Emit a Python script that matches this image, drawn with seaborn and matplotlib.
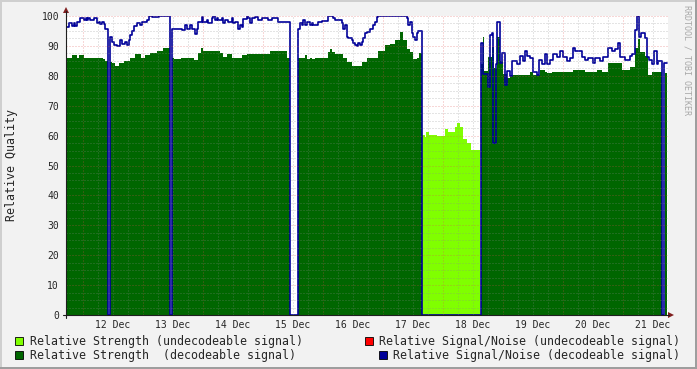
import numpy as np
import pandas as pd
import seaborn as sns
import matplotlib.pyplot as plt
from matplotlib.patches import Rectangle, Polygon
from matplotlib.lines import Line2D

nan = np.nan

# time axis: hours since 12 Dec 00:00, each value holds until the next time
end_t = 233.7

# Relative Strength (decodeable signal)
str_dec_t = [-6.2, -4.2, -2.2, -1.4, 0.6, 8.2, 9.0, 10.2, 11.0, 11.8,
             13.0, 14.6, 16.6, 19.0, 21.0, 23.4, 25.0, 27.0, 29.8, 32.2,
             34.8, 35.8, 36.4, 39.4, 44.6, 46.2, 47.4, 48.2, 55.0, 56.2,
             57.8, 59.8, 63.8, 65.8, 75.0, 81.8, 83.0, 86.3, 89.0, 89.8,
             91.0, 91.8, 93.0, 98.2, 99.0, 99.8, 101.0, 104.2, 105.8, 107.8,
             111.8, 113.8, 118.2, 121.0, 123.0, 125.0, 127.0, 128.2, 129.8, 131.0,
             132.1, 133.7, 134.7, 135.7, 159.4, 160.1, 160.6, 162.3, 163.7, 164.6,
             165.9, 167.0, 168.3, 169.7, 171.0, 179.0, 180.3, 183.0, 185.0, 185.7,
             187.7, 196.3, 201.0, 205.7, 207.7, 210.3, 215.7, 219.0, 221.0, 222.3,
             223.0, 225.0, 226.3, 227.7, 231.7, 233.0]
str_dec_v = [86, 87, 86, 87, 86, 85.5, 85, nan, 84.7, 84.2,
             83.3, 84.2, 85, 86, 87.3, 86, 87, 87.5, 88.2, 89.2,
             nan, 86, 85.5, 86, 85.3, 87.6, 89.2, 88.3, 87.6, 86.2,
             87.3, 86, 87, 87.3, 88.3, 86, nan, 86, 87, 85.5,
             86, 85.5, 86, 88, 88.9, 88, 87.3, 86, 84.7, 83.3,
             84.7, 86, 88.3, 90.3, 90.6, 92, 94.8, 92, 88.9, 88,
             85.5, 86, 87.5, nan, 84, 93, 81.6, 86.4, 89.7, 82.5,
             93, 85, 80.5, 79.1, 80.3, 81.4, 80.3, 81.9, 81.4, 80.8,
             81.4, 82.1, 81.4, 81.9, 81.4, 84.2, 82.1, 83, 89.2, 92.2,
             88, 86.5, 80.3, 81.4, nan, 81]

# Relative Strength (undecodeable signal)
str_und_t = [135.7, 137.0, 137.4, 138.7, 141.7, 145.0, 146.3, 149.0, 149.9, 151.0,
             152.3, 153.7, 155.3, 159.0]
str_und_v = [60.2, 59.5, 61.3, 60.2, 60, 62.1, 61.3, 63, 64.1, 63,
             59, 57.4, 55.2, nan]

# Relative Signal/Noise (decodeable signal)
snr_t = [-6.2, -5.4, -4.2, -3.5, -3.0, -2.2, -0.9, 0.6, 1.3, 1.8,
         2.3, 3.1, 4.5, 5.8, 6.5, 7.1, 7.8, 8.5, 9.1, 10.2,
         11.1, 11.8, 12.5, 13.8, 15.1, 15.8, 17.1, 17.8, 18.5, 19.1,
         19.8, 20.5, 21.8, 23.1, 23.8, 25.8, 26.5, 27.8, 30.5, 34.8,
         35.8, 39.7, 41.0, 41.7, 43.0, 43.7, 45.0, 45.7, 46.3, 47.7,
         48.3, 49.7, 50.3, 51.7, 52.3, 53.0, 53.7, 54.3, 55.7, 56.3,
         57.0, 58.3, 59.7, 60.3, 61.0, 62.3, 63.0, 63.7, 64.3, 65.7,
         66.3, 67.0, 67.7, 69.0, 70.3, 71.7, 74.3, 75.7, 78.3, 83.0,
         86.3, 87.0, 87.7, 88.3, 89.0, 89.7, 91.0, 91.7, 92.3, 94.3,
         95.7, 98.3, 100.3, 101.0, 103.7, 104.3, 105.0, 105.7, 106.3, 107.7,
         108.3, 109.0, 109.7, 110.3, 111.0, 111.7, 112.3, 113.0, 113.7, 115.0,
         116.3, 117.0, 117.7, 118.3, 129.7, 130.3, 131.0, 131.7, 132.3, 133.0,
         133.7, 134.3, 135.6, 159.4, 160.3, 162.3, 163.0, 163.7, 164.3, 165.4,
         165.9, 167.0, 167.7, 169.0, 169.7, 171.0, 171.7, 173.7, 175.0, 176.3,
         177.0, 177.7, 179.0, 180.3, 181.7, 182.6, 183.7, 185.0, 185.7, 187.0,
         188.3, 189.7, 191.0, 192.3, 193.7, 195.0, 196.3, 197.0, 199.7, 201.0,
         202.3, 204.3, 205.0, 207.0, 208.3, 210.3, 211.7, 213.0, 214.3, 215.0,
         217.0, 219.0, 219.7, 221.0, 221.7, 222.6, 223.3, 225.0, 225.9, 226.7,
         227.7, 228.6, 229.7, 230.3, 231.7, 232.7]
snr_v = [96.2, 97.8, 96.5, 97.8, 96.8, 98, 99.2, 98.5, 99.2, 98.5,
         99.2, 98.5, 99.2, 97.6, 98, 97.3, 98, 97.3, 95.8, 0,
         93.1, 91.4, 90.3, 89.9, 92, 90.6, 91.2, 90.3, 92, 93.6,
         95, 96.5, 97.6, 97, 98.1, 98.7, 100, 99.5, 100, 0,
         95.8, 95.3, 96.9, 95.8, 96.9, 95.8, 94.1, 95.8, 98.1, 99.8,
         98.1, 98.7, 97.8, 99.3, 100, 98.7, 99.3, 98.7, 99.3, 97.6,
         98.7, 98.1, 99.3, 97.6, 98.1, 95.8, 96.9, 96.3, 99.1, 100,
         99.3, 97.8, 99.3, 99.6, 98.7, 99.3, 98.7, 99.3, 98.1, 0,
         95.8, 97.5, 96.9, 98.7, 96.9, 98.1, 96.9, 97.5, 96.9, 98.1,
         98.4, 100, 99.3, 98.7, 97.5, 95.8, 96.9, 93.1, 92.6, 92,
         90.9, 90.3, 90, 90.9, 90.3, 91.4, 92.6, 94.2, 94.8, 95.8,
         96.9, 98.1, 99.7, 100, 99.3, 96.9, 98, 94.2, 93.1, 92,
         94.2, 95.1, 0, 90.9, 80.5, 76.3, 93.6, 94.3, 57.4, 84,
         98.1, 84.3, 87.5, 77, 81.7, 80, 85, 84, 86.5, 85,
         88.2, 86.5, 85.8, 81.4, 80.3, 85.3, 83.9, 87.2, 83.9, 85.3,
         87.2, 86.2, 88.2, 86.2, 84.9, 85.8, 89.3, 88.2, 86.2, 85.3,
         85.8, 84.4, 85.8, 84.9, 86.2, 89.3, 88.2, 88.8, 91, 86.2,
         85.3, 86.7, 87.2, 95.3, 100, 93, 94.2, 92.6, 86.2, 85.3,
         83.9, 88.2, 83.9, 84.9, 0, 84.4]

day_labels = ['12 Dec', '13 Dec', '14 Dec', '15 Dec', '16 Dec',
              '17 Dec', '18 Dec', '19 Dec', '20 Dec', '21 Dec']

legend_items = [('Relative Strength (undecodeable signal)', '#80FF00'),
                ('Relative Strength  (decodeable signal)', '#006600'),
                ('Relative Signal/Noise (undecodeable signal)', '#FF0000'),
                ('Relative Signal/Noise (decodeable signal)', '#000099')]

sns.set_style('white')
plt.rcParams['font.family'] = ['DejaVu Sans Mono']

W, H = 697, 369
fig = plt.figure(figsize=(W / 100, H / 100), dpi=100, facecolor='#F2F2F2')


def fx(x):
    return x / W


def fy(y):
    return 1 - y / H


ax = fig.add_axes([fx(66), fy(315), fx(668) - fx(66), fy(16) - fy(315)])
ax.set_facecolor('white')

# filled areas
ax.stairs(str_und_v, str_und_t + [end_t], fill=True, baseline=0,
          color='#80FF00', lw=0, zorder=1)
ax.stairs(str_dec_v, str_dec_t + [end_t], fill=True, baseline=0,
          color='#006600', lw=0, zorder=1)

# signal/noise line
snr = pd.DataFrame({'t': snr_t + [end_t], 'v': snr_v + [snr_v[-1]]})
sns.lineplot(data=snr, x='t', y='v', ax=ax, color='#000099', lw=1.2,
             drawstyle='steps-post', estimator=None, sort=False, zorder=2)

ax.set_xlim(-6.6, 234.2)
ax.set_ylim(0, 100)

# grid on top, rrdtool style dotted lines
dots = (0, (1, 2))
minor_c = (0.55, 0.55, 0.55, 0.45)
major_c = (0.87, 0.31, 0.31, 0.45)
hx = [h for h in range(6, 234, 6) if h % 24]
ax.vlines(hx, 0, 100, colors=[minor_c], lw=0.72, linestyles=dots, zorder=3, snap=True)
ax.vlines(range(0, 234, 24), 0, 100, colors=[major_c], lw=0.72, linestyles=dots, zorder=3, snap=True)
hy = [v for v in np.arange(2.5, 100, 2.5) if v % 10]
ax.hlines(hy, -6.6, 234.2, colors=[minor_c], lw=0.72, linestyles=dots, zorder=3, snap=True)
ax.hlines(range(10, 101, 10), -6.6, 234.2, colors=[major_c], lw=0.72, linestyles=dots,
          zorder=3, snap=True)

ax.set_xticks(range(12, 234, 24), day_labels)
ax.set_xticks(range(0, 234, 6), minor=True)
ax.xaxis.remove_overlapping_locs = False
ax.set_yticks(range(0, 101, 10))
ax.set_yticks(np.arange(0, 100, 2.5), minor=True)
ax.tick_params(axis='x', which='major', length=0, pad=3.5, labelsize=7)
ax.tick_params(axis='x', which='minor', length=4, width=0.7, direction='inout', color='#AAAAAA')
ax.tick_params(axis='y', which='both', length=4, width=0.7, direction='inout', color='#666666')
ax.tick_params(axis='y', which='major', pad=3, labelsize=7)
ax.set_xlabel('')
ax.set_ylabel('')
for s in ax.spines.values():
    s.set_visible(False)

# axis lines with arrows
axis_c = '#1F1F1F'
fig.add_artist(Line2D([fx(63), fx(669)], [fy(315), fy(315)], color=axis_c, lw=0.8))
fig.add_artist(Line2D([fx(66), fx(66)], [fy(318), fy(11)], color=axis_c, lw=0.8))
arrow_c = '#801F1F'
fig.add_artist(Polygon([[fx(668), fy(312)], [fx(674), fy(315)], [fx(668), fy(318)]],
                       closed=True, color=arrow_c, lw=0))
fig.add_artist(Polygon([[fx(63), fy(13)], [fx(66), fy(7)], [fx(69), fy(13)]],
                       closed=True, color=arrow_c, lw=0))

fig.text(fx(12), fy(165), 'Relative Quality', rotation=90, ha='center', va='center', fontsize=8.4)
fig.text(fx(687), fy(5), 'RRDTOOL / TOBI OETIKER', rotation=270, ha='center', va='top',
         fontsize=6, color='#A8A8A8')

# legend
rows = [341, 355]
for i, (label, col) in enumerate(legend_items[:2]):
    fig.add_artist(Rectangle((fx(15), fy(rows[i] + 4)), 8 / W, 8 / H, facecolor=col,
                             edgecolor='black', lw=0.6))
    fig.text(fx(30), fy(rows[i]), label, ha='left', va='center', fontsize=8.4)
for i, (label, col) in enumerate(legend_items[2:]):
    fig.text(fx(680), fy(rows[i]), label, ha='right', va='center', fontsize=8.4)
    sq_x = 680 - len(label) * 6.98 - 15
    fig.add_artist(Rectangle((fx(sq_x), fy(rows[i] + 4)), 8 / W, 8 / H, facecolor=col,
                             edgecolor='black', lw=0.6))

# 3d frame
fig.add_artist(Rectangle((0, fy(2)), 1, 2 / H, color='#CFCFCF', lw=0))
fig.add_artist(Rectangle((0, 0), 2 / W, 1, color='#CFCFCF', lw=0))
fig.add_artist(Rectangle((0, 0), 1, 2 / H, color='#9E9E9E', lw=0))
fig.add_artist(Rectangle((1 - 2 / W, 0), 2 / W, 1, color='#9E9E9E', lw=0))

fig.savefig('out.png', dpi=100, facecolor=fig.get_facecolor())
